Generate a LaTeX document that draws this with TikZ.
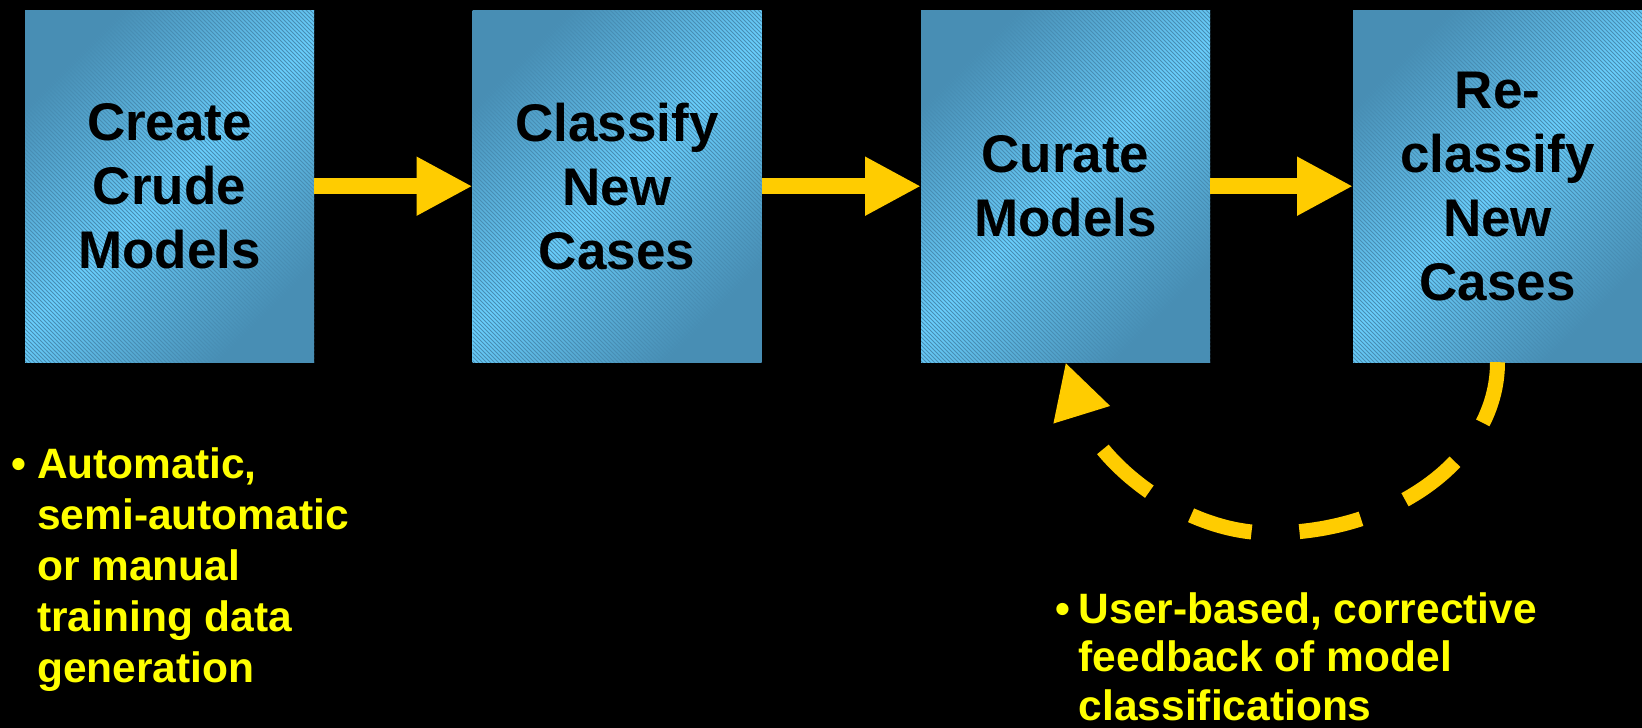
\documentclass[tikz,border=0pt]{standalone}
\usepackage{fontspec}
\setmainfont{Liberation Sans}
\usetikzlibrary{arrows.meta,patterns.meta}

\definecolor{boxlight}{RGB}{106,208,254}
\definecolor{boxdark}{RGB}{72,142,180}
\definecolor{flowyellow}{RGB}{255,204,0}
\definecolor{noteyellow}{RGB}{255,255,0}

\begin{document}
\begin{tikzpicture}[x=1pt,y=-1pt,
  stage/.style={minimum width=289pt, minimum height=352pt, inner sep=0pt, outer sep=0pt,
    top color=boxdark, bottom color=boxdark, middle color=boxlight, shading angle=45,
    postaction={pattern={Lines[angle=-45,distance=2.8284pt,line width=0.9pt]},
      pattern color=boxdark, fill opacity=0.35},
    font=\fontsize{53}{64}\selectfont\bfseries, align=center, text=black},
  flow/.style={line width=16pt, draw=flowyellow, -{Triangle[length=56pt,width=55pt]}},
  feedback/.style={line width=15pt, draw=flowyellow, dash pattern=on 63pt off 48pt,
    -{Triangle[length=55pt,width=55pt]}},
  note/.style={anchor=north west, inner sep=0pt, align=left, text=noteyellow,
    font=\fontsize{42.5}{51}\selectfont\bfseries}]

  % canvas
  \fill[black] (0,0) rectangle (1642,728);
  \useasboundingbox (0,0) rectangle (1642,728);

  % process stages
  \node[stage] (cc) at (169.5,186.2) {Create\\Crude\\Models};
  \node[stage] (cn) at (617,186.2) {Classify\\New\\Cases};
  \node[stage] (cm) at (1065.5,186.2) {Curate\\Models};
  \node[stage] (rc) at (1497.5,186.2) {Re-\\classify\\New\\Cases};

  % forward flow
  \draw[flow] (cc.east) -- (cn.west);
  \draw[flow] (cn.east) -- (cm.west);
  \draw[flow] (cm.east) -- (rc.west);

  % corrective feedback loop
  \coordinate (low) at (1270,533);
  \draw[feedback] (rc.south) .. controls +(0,95) and +(125,0) .. (low)
                  .. controls +(-90,0) and +(30,97) .. (cm.south);

  % notes
  \node[note] (auto) at (37,447)
    {\llap{•\hspace{11pt}}Automatic,\\semi-automatic\\or manual\\training data\\generation};
  \node[note, font=\fontsize{42.5}{48.5}\selectfont\bfseries] (user) at (1078.5,592)
    {\llap{•\hspace{8.5pt}}User-based, corrective\\feedback of model\\classifications};
\end{tikzpicture}
\end{document}
